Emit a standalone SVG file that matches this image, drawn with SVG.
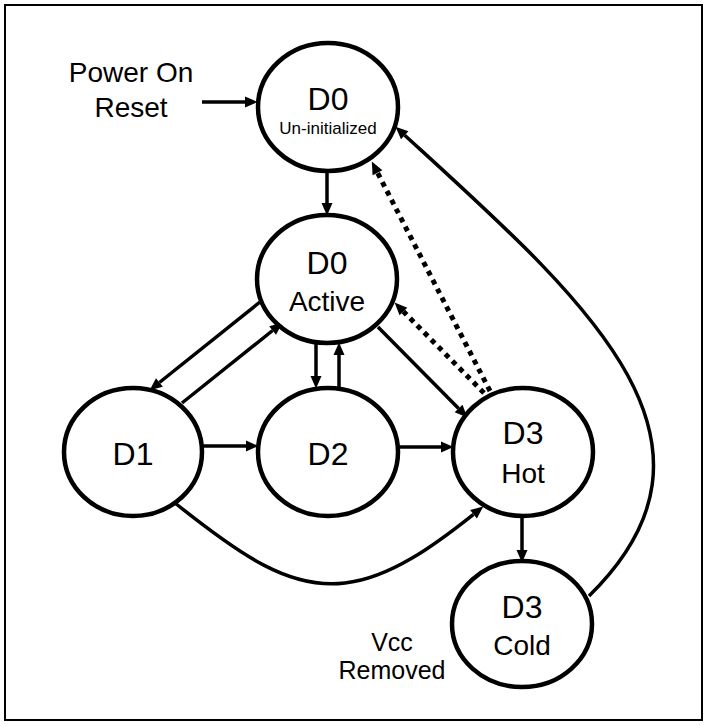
<svg xmlns="http://www.w3.org/2000/svg" width="709" height="726" viewBox="0 0 709 726">
<defs>
<style>
.node{fill:#fff;stroke:#000;stroke-width:4.5}
.t{font-family:"Liberation Sans",Arial,sans-serif;fill:#000;text-anchor:middle}
.big{font-size:32px}
.mid{font-size:28px}
.edge{fill:none;stroke:#000;stroke-width:3.5}
.dot{fill:none;stroke:#000;stroke-width:5;stroke-dasharray:5 5}
</style>
<marker id="ah" markerUnits="userSpaceOnUse" markerWidth="14" markerHeight="12" refX="0" refY="5.5" orient="auto" overflow="visible">
<path d="M0,0 L12.5,5.5 L0,11 z" fill="#000"/>
</marker>
</defs>
<rect x="5" y="5" width="697" height="715" fill="#fff" stroke="#000" stroke-width="2"/>
<g id="edges">
<line class="edge" x1="202" y1="102" x2="245" y2="102" marker-end="url(#ah)"/>
<line class="edge" x1="327" y1="172" x2="327" y2="203" marker-end="url(#ah)"/>
<line class="edge" x1="260" y1="302" x2="159.4" y2="382.5" marker-end="url(#ah)"/>
<line class="edge" x1="182" y1="403" x2="272.6" y2="330.5" marker-end="url(#ah)"/>
<line class="edge" x1="316" y1="343" x2="316" y2="376" marker-end="url(#ah)"/>
<line class="edge" x1="339" y1="388" x2="339" y2="355" marker-end="url(#ah)"/>
<line class="edge" x1="378" y1="327" x2="458.6" y2="408.5" marker-end="url(#ah)"/>
<line class="edge" x1="203" y1="446" x2="246" y2="446" marker-end="url(#ah)"/>
<line class="edge" x1="397" y1="447" x2="441" y2="447" marker-end="url(#ah)"/>
<line class="edge" x1="522" y1="516" x2="522" y2="550" marker-end="url(#ah)"/>
<line class="dot" x1="484" y1="393" x2="403.4" y2="311.5" marker-end="url(#ah)"/>
<line class="dot" x1="490" y1="391" x2="377.5" y2="172.7" marker-end="url(#ah)"/>
<path class="edge" d="M175 503 C240 555 290 590 345 583 C390 578 435 545 473.5 514.3" marker-end="url(#ah)"/>
<path class="edge" d="M589 596 C748 440 585 300 404.7 135.2" marker-end="url(#ah)"/>
</g>
<g id="power-on-reset">
<text class="t mid" x="131" y="82">Power On</text>
<text class="t mid" x="131" y="117">Reset</text>
</g>
<g id="d0-uninit">
<ellipse class="node" cx="328" cy="107" rx="70" ry="64"/>
<text class="t big" x="328" y="110">D0</text>
<text class="t" x="328" y="134" font-size="17">Un-initialized</text>
</g>
<g id="d0-active">
<ellipse class="node" cx="327" cy="279" rx="70" ry="64"/>
<text class="t big" x="327" y="274">D0</text>
<text class="t mid" x="327" y="311">Active</text>
</g>
<g id="d1">
<ellipse class="node" cx="133" cy="452" rx="69" ry="64"/>
<text class="t big" x="133" y="465">D1</text>
</g>
<g id="d2">
<ellipse class="node" cx="328" cy="452" rx="70" ry="64"/>
<text class="t big" x="328" y="465">D2</text>
</g>
<g id="d3-hot">
<ellipse class="node" cx="523" cy="452" rx="70" ry="64"/>
<text class="t big" x="523" y="444">D3</text>
<text class="t mid" x="523" y="483">Hot</text>
</g>
<g id="d3-cold">
<ellipse class="node" cx="522" cy="624" rx="70" ry="63"/>
<text class="t big" x="522" y="618">D3</text>
<text class="t mid" x="522" y="655">Cold</text>
</g>
<g id="vcc-removed">
<text class="t" x="392" y="651" font-size="25">Vcc</text>
<text class="t" x="392" y="679" font-size="25">Removed</text>
</g>
</svg>
